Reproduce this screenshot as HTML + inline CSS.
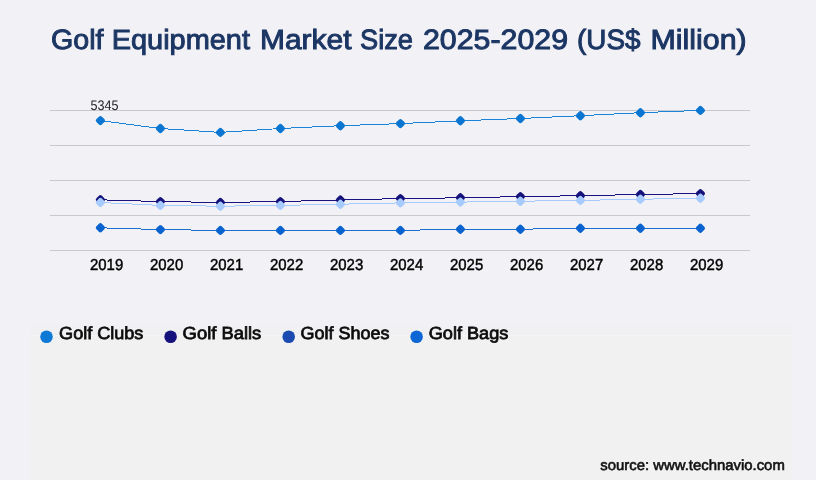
<!DOCTYPE html>
<html><head><meta charset="utf-8"><style>
html,body{margin:0;padding:0;}
body{width:816px;height:480px;overflow:hidden;background:#f2f2f6;font-family:"Liberation Sans",sans-serif;position:relative;}
.panel{position:absolute;left:30px;top:335px;width:762px;height:145px;background:#f1f1f2;border-top:1px solid #f4f4f5;box-sizing:border-box;}
.band{position:absolute;left:30px;top:322px;width:762px;height:13px;background:linear-gradient(to bottom,rgba(239,239,241,0),rgba(239,239,241,1));}
svg{position:absolute;left:0;top:0;will-change:transform;}
text{font-family:"Liberation Sans",sans-serif;text-rendering:geometricPrecision;}
.title{font-size:27.8px;fill:#1c3664;stroke:#1c3664;stroke-width:0.95px;}
.tick{font-size:15.9px;fill:#000;stroke:#000;stroke-width:0.45px;}
.val{font-size:13.8px;fill:#222;}
.leg{font-size:17.5px;fill:#0c0c0c;stroke:#0c0c0c;stroke-width:0.75px;}
.src{font-size:14.6px;fill:#111;stroke:#111;stroke-width:0.6px;}
</style></head><body>
<div class="band"></div><div class="panel"></div>
<svg width="816" height="480" viewBox="0 0 816 480">
<text x="51" y="49.4" class="title" textLength="52.5" lengthAdjust="spacingAndGlyphs">Golf</text>
<text x="111.7" y="49.4" class="title" textLength="138.3" lengthAdjust="spacingAndGlyphs">Equipment</text>
<text x="260" y="49.4" class="title" textLength="91.5" lengthAdjust="spacingAndGlyphs">Market</text>
<text x="360" y="49.4" class="title" textLength="53.0" lengthAdjust="spacingAndGlyphs">Size</text>
<text x="423" y="49.4" class="title" textLength="145.0" lengthAdjust="spacingAndGlyphs">2025-2029</text>
<text x="577" y="49.4" class="title" textLength="63.5" lengthAdjust="spacingAndGlyphs">(US$</text>
<text x="650.5" y="49.4" class="title" textLength="96.2" lengthAdjust="spacingAndGlyphs">Million)</text>

<rect x="50" y="110" width="700" height="1" fill="#c9c9cd"/>
<rect x="50" y="145" width="700" height="1" fill="#c9c9cd"/>
<rect x="50" y="180" width="700" height="1" fill="#c9c9cd"/>
<rect x="50" y="215" width="700" height="1" fill="#c9c9cd"/>
<rect x="50" y="250" width="700" height="1" fill="#c9c9cd"/>
<polyline points="100.4,120.6 160.4,128.5 220.4,132.4 280.4,128.5 340.4,125.7 400.4,123.6 460.4,120.8 520.4,118.5 580.4,115.7 640.4,112.7 700.4,110.4" fill="none" stroke="#1a84d8" stroke-width="1" shape-rendering="crispEdges"/>
<rect x="96.55" y="116.75" width="7.7" height="7.7" rx="2.1" fill="#0b76d2" transform="rotate(45 100.4 120.6)"/>
<rect x="156.55" y="124.65" width="7.7" height="7.7" rx="2.1" fill="#0b76d2" transform="rotate(45 160.4 128.5)"/>
<rect x="216.55" y="128.55" width="7.7" height="7.7" rx="2.1" fill="#0b76d2" transform="rotate(45 220.4 132.4)"/>
<rect x="276.55" y="124.65" width="7.7" height="7.7" rx="2.1" fill="#0b76d2" transform="rotate(45 280.4 128.5)"/>
<rect x="336.55" y="121.85" width="7.7" height="7.7" rx="2.1" fill="#0b76d2" transform="rotate(45 340.4 125.7)"/>
<rect x="396.55" y="119.75" width="7.7" height="7.7" rx="2.1" fill="#0b76d2" transform="rotate(45 400.4 123.6)"/>
<rect x="456.55" y="116.95" width="7.7" height="7.7" rx="2.1" fill="#0b76d2" transform="rotate(45 460.4 120.8)"/>
<rect x="516.55" y="114.65" width="7.7" height="7.7" rx="2.1" fill="#0b76d2" transform="rotate(45 520.4 118.5)"/>
<rect x="576.55" y="111.85" width="7.7" height="7.7" rx="2.1" fill="#0b76d2" transform="rotate(45 580.4 115.7)"/>
<rect x="636.55" y="108.85" width="7.7" height="7.7" rx="2.1" fill="#0b76d2" transform="rotate(45 640.4 112.7)"/>
<rect x="696.55" y="106.55" width="7.7" height="7.7" rx="2.1" fill="#0b76d2" transform="rotate(45 700.4 110.4)"/>
<polyline points="100.4,227.8 160.4,229.6 220.4,230.4 280.4,230.4 340.4,230.4 400.4,230.4 460.4,229.2 520.4,229.2 580.4,228.3 640.4,228.3 700.4,228.3" fill="none" stroke="#1b6fd0" stroke-width="1" shape-rendering="crispEdges"/>
<rect x="96.55" y="223.95" width="7.7" height="7.7" rx="2.1" fill="#0a63cf" transform="rotate(45 100.4 227.8)"/>
<rect x="156.55" y="225.75" width="7.7" height="7.7" rx="2.1" fill="#0a63cf" transform="rotate(45 160.4 229.6)"/>
<rect x="216.55" y="226.55" width="7.7" height="7.7" rx="2.1" fill="#0a63cf" transform="rotate(45 220.4 230.4)"/>
<rect x="276.55" y="226.55" width="7.7" height="7.7" rx="2.1" fill="#0a63cf" transform="rotate(45 280.4 230.4)"/>
<rect x="336.55" y="226.55" width="7.7" height="7.7" rx="2.1" fill="#0a63cf" transform="rotate(45 340.4 230.4)"/>
<rect x="396.55" y="226.55" width="7.7" height="7.7" rx="2.1" fill="#0a63cf" transform="rotate(45 400.4 230.4)"/>
<rect x="456.55" y="225.35" width="7.7" height="7.7" rx="2.1" fill="#0a63cf" transform="rotate(45 460.4 229.2)"/>
<rect x="516.55" y="225.35" width="7.7" height="7.7" rx="2.1" fill="#0a63cf" transform="rotate(45 520.4 229.2)"/>
<rect x="576.55" y="224.45" width="7.7" height="7.7" rx="2.1" fill="#0a63cf" transform="rotate(45 580.4 228.3)"/>
<rect x="636.55" y="224.45" width="7.7" height="7.7" rx="2.1" fill="#0a63cf" transform="rotate(45 640.4 228.3)"/>
<rect x="696.55" y="224.45" width="7.7" height="7.7" rx="2.1" fill="#0a63cf" transform="rotate(45 700.4 228.3)"/>
<polyline points="100.4,199.8 160.4,201.6 220.4,202.4 280.4,201.6 340.4,199.9 400.4,198.6 460.4,197.8 520.4,196.6 580.4,195.7 640.4,194.5 700.4,193.6" fill="none" stroke="#1a1280" stroke-width="1" shape-rendering="crispEdges"/>
<rect x="96.55" y="195.95" width="7.7" height="7.7" rx="2.1" fill="#15127c" transform="rotate(45 100.4 199.8)"/>
<rect x="156.55" y="197.75" width="7.7" height="7.7" rx="2.1" fill="#15127c" transform="rotate(45 160.4 201.6)"/>
<rect x="216.55" y="198.55" width="7.7" height="7.7" rx="2.1" fill="#15127c" transform="rotate(45 220.4 202.4)"/>
<rect x="276.55" y="197.75" width="7.7" height="7.7" rx="2.1" fill="#15127c" transform="rotate(45 280.4 201.6)"/>
<rect x="336.55" y="196.05" width="7.7" height="7.7" rx="2.1" fill="#15127c" transform="rotate(45 340.4 199.9)"/>
<rect x="396.55" y="194.75" width="7.7" height="7.7" rx="2.1" fill="#15127c" transform="rotate(45 400.4 198.6)"/>
<rect x="456.55" y="193.95" width="7.7" height="7.7" rx="2.1" fill="#15127c" transform="rotate(45 460.4 197.8)"/>
<rect x="516.55" y="192.75" width="7.7" height="7.7" rx="2.1" fill="#15127c" transform="rotate(45 520.4 196.6)"/>
<rect x="576.55" y="191.85" width="7.7" height="7.7" rx="2.1" fill="#15127c" transform="rotate(45 580.4 195.7)"/>
<rect x="636.55" y="190.65" width="7.7" height="7.7" rx="2.1" fill="#15127c" transform="rotate(45 640.4 194.5)"/>
<rect x="696.55" y="189.75" width="7.7" height="7.7" rx="2.1" fill="#15127c" transform="rotate(45 700.4 193.6)"/>
<polyline points="100.4,202.5 160.4,205.4 220.4,206.2 280.4,205.4 340.4,204.2 400.4,202.9 460.4,202.1 520.4,201.2 580.4,200.4 640.4,199.2 700.4,198.3" fill="none" stroke="#a6cafe" stroke-width="1" shape-rendering="crispEdges"/>
<rect x="96.55" y="198.65" width="7.7" height="7.7" rx="2.1" fill="#a8cbfd" transform="rotate(45 100.4 202.5)"/>
<rect x="156.55" y="201.55" width="7.7" height="7.7" rx="2.1" fill="#a8cbfd" transform="rotate(45 160.4 205.4)"/>
<rect x="216.55" y="202.40" width="7.7" height="7.7" rx="2.1" fill="#a8cbfd" transform="rotate(45 220.4 206.2)"/>
<rect x="276.55" y="201.55" width="7.7" height="7.7" rx="2.1" fill="#a8cbfd" transform="rotate(45 280.4 205.4)"/>
<rect x="336.55" y="200.35" width="7.7" height="7.7" rx="2.1" fill="#a8cbfd" transform="rotate(45 340.4 204.2)"/>
<rect x="396.55" y="199.05" width="7.7" height="7.7" rx="2.1" fill="#a8cbfd" transform="rotate(45 400.4 202.9)"/>
<rect x="456.55" y="198.25" width="7.7" height="7.7" rx="2.1" fill="#a8cbfd" transform="rotate(45 460.4 202.1)"/>
<rect x="516.55" y="197.40" width="7.7" height="7.7" rx="2.1" fill="#a8cbfd" transform="rotate(45 520.4 201.2)"/>
<rect x="576.55" y="196.55" width="7.7" height="7.7" rx="2.1" fill="#a8cbfd" transform="rotate(45 580.4 200.4)"/>
<rect x="636.55" y="195.35" width="7.7" height="7.7" rx="2.1" fill="#a8cbfd" transform="rotate(45 640.4 199.2)"/>
<rect x="696.55" y="194.45" width="7.7" height="7.7" rx="2.1" fill="#a8cbfd" transform="rotate(45 700.4 198.3)"/>
<text x="90" y="269.7" class="tick" textLength="33.2" lengthAdjust="spacingAndGlyphs">2019</text>
<text x="150" y="269.7" class="tick" textLength="33.2" lengthAdjust="spacingAndGlyphs">2020</text>
<text x="210" y="269.7" class="tick" textLength="33.2" lengthAdjust="spacingAndGlyphs">2021</text>
<text x="270" y="269.7" class="tick" textLength="33.2" lengthAdjust="spacingAndGlyphs">2022</text>
<text x="330" y="269.7" class="tick" textLength="33.2" lengthAdjust="spacingAndGlyphs">2023</text>
<text x="390" y="269.7" class="tick" textLength="33.2" lengthAdjust="spacingAndGlyphs">2024</text>
<text x="450" y="269.7" class="tick" textLength="33.2" lengthAdjust="spacingAndGlyphs">2025</text>
<text x="510" y="269.7" class="tick" textLength="33.2" lengthAdjust="spacingAndGlyphs">2026</text>
<text x="570" y="269.7" class="tick" textLength="33.2" lengthAdjust="spacingAndGlyphs">2027</text>
<text x="630" y="269.7" class="tick" textLength="33.2" lengthAdjust="spacingAndGlyphs">2028</text>
<text x="690" y="269.7" class="tick" textLength="33.2" lengthAdjust="spacingAndGlyphs">2029</text>

<text x="90.4" y="110" class="val" textLength="28" lengthAdjust="spacingAndGlyphs">5345</text>
<circle cx="46.5" cy="336.7" r="6.3" fill="#0f7ad6"/><text x="59.1" y="339.1" class="leg" textLength="84.3" lengthAdjust="spacingAndGlyphs">Golf Clubs</text>
<circle cx="170.6" cy="336.7" r="6.3" fill="#15127c"/><text x="182.6" y="339.1" class="leg" textLength="78.7" lengthAdjust="spacingAndGlyphs">Golf Balls</text>
<circle cx="288.7" cy="336.7" r="6.3" fill="#1b4bb0"/><text x="300.6" y="339.1" class="leg" textLength="88.9" lengthAdjust="spacingAndGlyphs">Golf Shoes</text>
<circle cx="416.6" cy="336.7" r="6.3" fill="#0d66d4"/><text x="428.7" y="339.1" class="leg" textLength="79.7" lengthAdjust="spacingAndGlyphs">Golf Bags</text>

<text x="600.3" y="470" class="src" textLength="184.5" lengthAdjust="spacingAndGlyphs">source: www.technavio.com</text>
</svg>
</body></html>
